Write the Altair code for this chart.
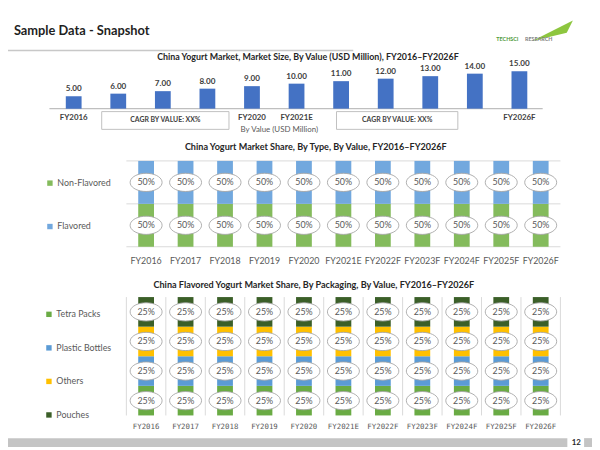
import altair as alt
import pandas as pd
import numpy as np

# ---------------- data ----------------
years = ["FY2016", "FY2017", "FY2018", "FY2019", "FY2020", "FY2021E",
         "FY2022F", "FY2023F", "FY2024F", "FY2025F", "FY2026F"]
market_size = [5.00, 6.00, 7.00, 8.00, 9.00, 10.00, 11.00, 12.00, 13.00, 14.00, 15.00]
size_axis_labels = ["FY2016", "", "", "", "FY2020", "FY2021E", "", "", "", "", "FY2026F"]

type_names = ["Non-Flavored", "Flavored"]
type_colors = ["#84bb5c", "#72a8de"]
non_flavored_share = [50, 50, 50, 50, 50, 50, 50, 50, 50, 50, 50]
flavored_share = [50, 50, 50, 50, 50, 50, 50, 50, 50, 50, 50]

pack_names = ["Tetra Packs", "Plastic Bottles", "Others", "Pouches"]
pack_colors = ["#6aab44", "#5b9bd5", "#ffc000", "#3b5f28"]
tetra_share = [25, 25, 25, 25, 25, 25, 25, 25, 25, 25, 25]
plastic_share = [25, 25, 25, 25, 25, 25, 25, 25, 25, 25, 25]
others_share = [25, 25, 25, 25, 25, 25, 25, 25, 25, 25, 25]
pouches_share = [25, 25, 25, 25, 25, 25, 25, 25, 25, 25, 25]

FONT = "Lato"
W, H = 592, 442

# ---------------- tables ----------------
df1 = pd.DataFrame({"year": years, "value": market_size,
                    "label": [f"{v:.2f}" for v in market_size],
                    "axis_label": size_axis_labels})


def stacked(names, series):
    rows = []
    for i, y in enumerate(years):
        cum = 0
        for k, (n, s) in enumerate(zip(names, series)):
            v = s[i]
            rows.append({"year": y, "cat": n, "share": v, "ord": k,
                         "mid": cum + v / 2, "pct": f"{v}%"})
            cum += v
    return pd.DataFrame(rows)


df2 = stacked(type_names, [non_flavored_share, flavored_share])
df3 = stacked(pack_names, [tetra_share, plastic_share, others_share, pouches_share])
dfy = pd.DataFrame({"year": years})
one = pd.DataFrame({"k": [0]})

# ellipse symbol (unit box)
t = np.linspace(0, 2 * np.pi, 37)[:-1]
ELL = "M" + " L".join(f"{np.cos(a):.3f},{0.57 * np.sin(a):.3f}" for a in t) + " Z"
ELL_SIZE = 1050


def rect(x, x2, y, y2, fill, stroke=None, sw=0):
    kw = dict(fill=fill)
    if stroke:
        kw.update(stroke=stroke, strokeWidth=sw)
    return alt.Chart(one).mark_rect(**kw).encode(
        x=alt.value(x), x2=alt.value(x2), y=alt.value(y), y2=alt.value(y2))


def text(s, x, y, size, bold=False, color="#404040", align="center"):
    return alt.Chart(one).mark_text(
        text=s, font=FONT, fontSize=size, fontWeight="bold" if bold else "normal",
        color=color, align=align, baseline="middle").encode(x=alt.value(x), y=alt.value(y))


layers = []

# ---------------- slide decorations ----------------
layers.append(text("Sample Data - Snapshot", 6, 20, 13, True, "#1f1f1f", "left"))
layers.append(alt.Chart(one).mark_rule(color="#c8c8c8", strokeWidth=1.5).encode(
    x=alt.value(0), x2=alt.value(350), y=alt.value(40)))
layers.append(alt.Chart(one).mark_point(
    shape="M-1,0.5 L1,-0.5 L0.7,0.1 Z", size=1700, filled=True, fill="#8dc63f", opacity=1
).encode(x=alt.value(552), y=alt.value(20)))
layers.append(text("TECHSCI", 495, 28, 5.5, True, "#4f9a3a", "left"))
layers.append(text("RESEARCH", 524, 28, 5.5, True, "#7f7f7f", "left"))
layers.append(rect(0, 567, 433, 442, "#c4c4c4"))
layers.append(rect(584, 592, 433, 442, "#c4c4c4"))
layers.append(text("12", 576, 438, 8, True, "#262626"))

# ---------------- chart 1 : market size ----------------
x1 = alt.X("year:N", scale=alt.Scale(domain=years, range=[44, 541],
                                     paddingInner=0, paddingOuter=0), axis=None)
y1 = alt.Y("value:Q", scale=alt.Scale(domain=[0, 15], range=[99, 61], nice=False, zero=True),
           axis=None)
layers.append(text("China Yogurt Market, Market Size, By Value (USD Million), FY2016\u2013FY2026F",
                   304, 47, 9, True, "#262626"))
layers.append(alt.Chart(one).mark_rule(color="#bfbfbf", strokeWidth=1.2).encode(
    x=alt.value(42), x2=alt.value(542), y=alt.value(99)))
layers.append(alt.Chart(df1).mark_bar(size=16, color="#4472c4").encode(x=x1, y=y1))
layers.append(alt.Chart(df1).mark_text(font=FONT, fontSize=8.2, fontWeight="bold",
                                       color="#404040", baseline="bottom", dy=-3).encode(
    x=x1, y=y1, text="label:N"))
layers.append(alt.Chart(df1).mark_text(font=FONT, fontSize=8, fontWeight="bold",
                                       color="#404040", baseline="middle").encode(
    x=x1, y=alt.value(109), text="axis_label:N"))
layers.append(rect(95, 224, 102, 120, "white", "#c0c0c0", 1))
layers.append(rect(333, 456, 102, 120, "white", "#c0c0c0", 1))
layers.append(text("CAGR BY VALUE: XX%", 159.5, 111, 7, True, "#404040"))
layers.append(text("CAGR BY VALUE: XX%", 394.5, 111, 7, True, "#404040"))
layers.append(text("By Value (USD Million)", 275, 120.5, 8, False, "#595959"))

# ---------------- chart 2 : share by type ----------------
band2 = alt.Scale(domain=years, range=[120, 560], paddingInner=0, paddingOuter=0)
x2s = alt.X("year:N", scale=band2, axis=None)
sc2 = alt.Scale(domain=[0, 100], range=[239, 152], nice=False, zero=True)
layers.append(text("China Yogurt Market Share, By Type, By Value, FY2016\u2013FY2026F",
                   312, 138, 9.2, True, "#262626"))
layers.append(alt.Chart(pd.DataFrame({"g": [0, 50, 100]})).mark_rule(
    color="#d9d9d9", strokeWidth=1).encode(
    y=alt.Y("g:Q", scale=sc2, axis=None), x=alt.value(120), x2=alt.value(560)))
layers.append(alt.Chart(df2).mark_bar(size=16).encode(
    x=x2s,
    y=alt.Y("share:Q", stack="zero", scale=sc2, axis=None),
    color=alt.Color("cat:N", scale=alt.Scale(domain=type_names, range=type_colors),
                    legend=alt.Legend(orient="none", legendX=38, legendY=170, title=None,
                                      symbolType="square", symbolSize=30, symbolStrokeWidth=0,
                                      labelFont=FONT, labelFontSize=9, labelColor="#595959",
                                      labelOffset=3, rowPadding=34, padding=0)),
    order=alt.Order("ord:Q")))
layers.append(alt.Chart(df2).mark_point(shape=ELL, size=ELL_SIZE, filled=True, fill="white",
                                        stroke="#a6a6a6", strokeWidth=0.9, opacity=1).encode(
    x=x2s, y=alt.Y("mid:Q", scale=sc2, axis=None)))
layers.append(alt.Chart(df2).mark_text(font=FONT, fontSize=9, color="#595959",
                                       baseline="middle").encode(
    x=x2s, y=alt.Y("mid:Q", scale=sc2, axis=None), text="pct:N"))
layers.append(alt.Chart(dfy).mark_text(font=FONT, fontSize=9, color="#595959",
                                       baseline="middle").encode(
    x=x2s, y=alt.value(253), text="year:N"))

# ---------------- chart 3 : flavored share by packaging ----------------
band3 = alt.Scale(domain=years, range=[120, 560], paddingInner=0, paddingOuter=0)
x3s = alt.X("year:N", scale=band3, axis=None)
sc3 = alt.Scale(domain=[0, 100], range=[410, 290], nice=False, zero=True)
layers.append(text("China Flavored Yogurt Market Share, By Packaging, By Value, FY2016\u2013FY2026F",
                   310, 278, 9.2, True, "#262626"))
layers.append(alt.Chart(dfy).mark_rule(color="#d9d9d9", strokeWidth=1).encode(
    x=alt.X("year:N", scale=band3, axis=None, bandPosition=0),
    y=alt.value(290), y2=alt.value(410)))
layers.append(alt.Chart(dfy.tail(1)).mark_rule(color="#d9d9d9", strokeWidth=1).encode(
    x=alt.X("year:N", scale=band3, axis=None, bandPosition=1),
    y=alt.value(290), y2=alt.value(410)))
layers.append(alt.Chart(df3).mark_bar(size=16).encode(
    x=x3s,
    y=alt.Y("share:Q", stack="zero", scale=sc3, axis=None),
    color=alt.Color("cat:N", scale=alt.Scale(domain=pack_names, range=pack_colors),
                    legend=alt.Legend(orient="none", legendX=37, legendY=303, title=None,
                                      symbolType="square", symbolSize=30, symbolStrokeWidth=0,
                                      labelFont=FONT, labelFontSize=9, labelColor="#595959",
                                      labelOffset=3, rowPadding=24, padding=0)),
    order=alt.Order("ord:Q")))
layers.append(alt.Chart(df3).mark_point(shape=ELL, size=ELL_SIZE, filled=True, fill="white",
                                        stroke="#a6a6a6", strokeWidth=0.9, opacity=1).encode(
    x=x3s, y=alt.Y("mid:Q", scale=sc3, axis=None)))
layers.append(alt.Chart(df3).mark_text(font=FONT, fontSize=9, color="#595959",
                                       baseline="middle").encode(
    x=x3s, y=alt.Y("mid:Q", scale=sc3, axis=None), text="pct:N"))
layers.append(alt.Chart(dfy).mark_text(font="DejaVu Sans Mono", fontSize=7.5, color="#595959",
                                       baseline="middle").encode(
    x=x3s, y=alt.value(422), text="year:N"))

chart = alt.layer(*layers).resolve_scale(
    x="independent", y="independent", color="independent"
).resolve_legend(color="independent").properties(
    width=W, height=H, padding=0, autosize="none", background="white"
).configure_view(stroke=None)

chart.save("out.html", embed_options={"renderer": "svg", "actions": False})
